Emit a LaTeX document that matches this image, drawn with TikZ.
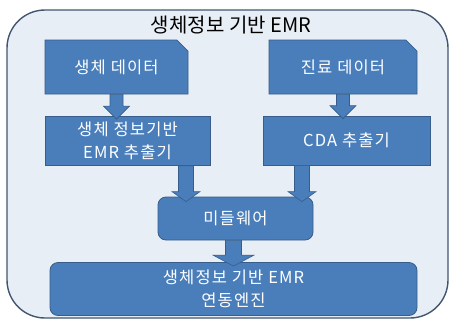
\documentclass[tikz,border=0pt]{standalone}
\usepackage{fontspec}
\setmainfont{Noto Sans CJK KR}
\newfontfamily\boxfont[LetterSpace=7]{Noto Sans CJK KR}
\usetikzlibrary{shapes.misc,calc}

\definecolor{panelfill}{HTML}{E8EEF6}
\definecolor{paneledge}{HTML}{42566F}
\definecolor{boxfill}{HTML}{4A7EBB}
\definecolor{boxedge}{HTML}{385D8A}

\tikzset{
  panel/.style={draw=paneledge, line width=1.4pt, fill=panelfill, rounded corners=38pt},
  card/.style={draw=boxedge, line width=0.8pt, fill=boxfill, text=white,
    font=\boxfont\fontsize{16.5}{23.5}\selectfont, align=center, inner sep=0pt},
  docbox/.style={card, chamfered rectangle, chamfered rectangle corners=north east,
    chamfered rectangle xsep=11pt, chamfered rectangle angle=45},
  procbox/.style={card, rectangle},
  roundbox/.style={card, rectangle, rounded corners=8pt},
  flowarrow/.style={draw=boxedge, line width=0.6pt, fill=boxfill},
}

% block arrow: #1 start point, #2 tip point, #3 shaft half width,
% #4 head half width, #5 head length
\newcommand\blockarrow[5]{%
  \filldraw[flowarrow] let \p1=(#1), \p2=(#2) in
    (\x1-#3,\y1) -- (\x1+#3,\y1) -- (\x1+#3,\y2+#5) -- (\x1+#4,\y2+#5)
    -- (\x1,\y2) -- (\x1-#4,\y2+#5) -- (\x1-#3,\y2+#5) -- cycle;}

\begin{document}
\begin{tikzpicture}[x=1pt, y=-1pt]
  \useasboundingbox (0,0) rectangle (450,322);

  % outer panel and its heading
  \path[panel] (7,10) rectangle (448,318);
  \node (title) at (231,25) {\fontsize{20}{24}\selectfont 생체정보 기반 EMR};

  % data sources
  \node[docbox, minimum width=143pt, minimum height=54pt] (bio) at (116.5,67) {생체 데이터};
  \node[docbox, minimum width=148pt, minimum height=54pt] (clin) at (343,67) {진료 데이터};

  % extractors
  \node[procbox, minimum width=165pt, minimum height=49pt] (emrx) at (127.5,141) {생체 정보기반\\EMR 추출기};
  \node[procbox, minimum width=167pt, minimum height=49pt] (cdax) at (346.5,140.5) {CDA 추출기};

  % middleware and engine
  \node[roundbox, minimum width=155pt, minimum height=43pt] (mw) at (235.5,218.5) {미들웨어};
  \node[roundbox, minimum width=367pt, minimum height=53pt] (eng) at (233.5,289) {생체정보 기반 EMR\\연동엔진};

  % x positions of the arrows entering the middleware
  \coordinate (lx) at (186,0);
  \coordinate (rx) at (302,0);

  % flow arrows
  \blockarrow{bio.south}{$(emrx.north)+(0,-3pt)$}{6.5pt}{13pt}{13pt}
  \blockarrow{clin.south}{$(cdax.north -| clin.south)+(0,-3pt)$}{6.5pt}{13pt}{13pt}
  \blockarrow{emrx.south -| lx}{$(mw.north -| lx)+(0,-5pt)$}{7.5pt}{14pt}{10pt}
  \blockarrow{cdax.south -| rx}{$(mw.north -| rx)+(0,-5pt)$}{7.5pt}{14pt}{10pt}
  \blockarrow{mw.south -| eng.north}{$(eng.north)+(0,-4pt)$}{8pt}{20.5pt}{11pt}
\end{tikzpicture}
\end{document}
